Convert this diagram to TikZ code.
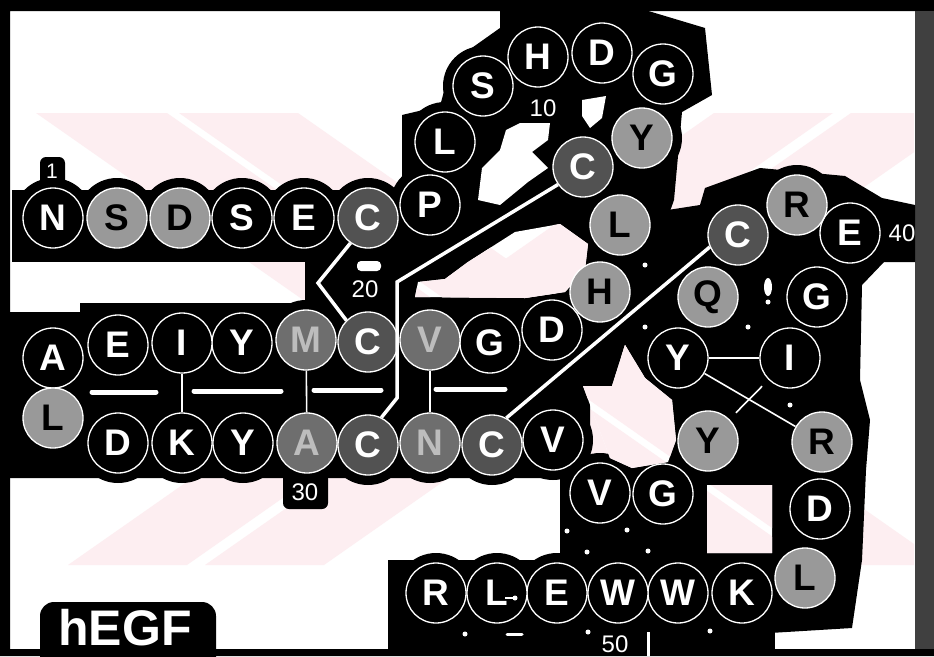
\documentclass[tikz,border=0pt]{standalone}
\usepackage{fontspec}
\setmainfont{Liberation Sans}
\usepackage{xcolor}
\usepackage{tikz}
\usetikzlibrary{backgrounds}
\definecolor{litegray}{gray}{0.60}
\definecolor{midgray}{gray}{0.43}
\definecolor{midletter}{gray}{0.74}
\definecolor{cysgray}{gray}{0.32}
\definecolor{edgegray}{gray}{0.25}
\definecolor{wmpink}{RGB}{253,238,241}
% faint watermark bands
\newcommand{\wmbands}{%
  \begin{scope}
    \clip (12,113) rectangle (914,565);
    \fill[wmpink] (36,113) -- (167,113) -- (813,565) -- (682,565) -- cycle;
    \fill[wmpink] (179,113) -- (298,113) -- (944,565) -- (825,565) -- cycle;
    \fill[wmpink] (714,113) -- (833,113) -- (187,565) -- (68,565) -- cycle;
    \fill[wmpink] (851,113) -- (970,113) -- (324,565) -- (205,565) -- cycle;
  \end{scope}}

\begin{document}
\begin{tikzpicture}[x=1pt,y=-1pt,
  res/.style={circle,draw=white,line width=1.3pt,fill=black,text=white,minimum size=60pt,inner sep=0pt,font=\fontsize{37}{37}\selectfont\bfseries},
  resl/.style={res,fill=litegray,text=black},
  resm/.style={res,fill=midgray,text=midletter},
  resc/.style={res,fill=cysgray,text=white},
  num/.style={text=white,inner sep=0pt,font=\fontsize{24}{24}\selectfont},
  ss/.style={draw=white,line width=3.5pt},
  pair/.style={draw=white,line width=1.6pt},
  hbar/.style={draw=white,line width=5pt,line cap=round},
  speck/.style={fill=white}
]
\useasboundingbox (0,0) rectangle (934,656);
\clip (0,0) rectangle (934,656);

% residues 1-53
\node[res] (n1) at (53,218) {N};
\node[resl] (s2) at (117,218) {S};
\node[resl] (d3) at (180,218) {D};
\node[res] (s4) at (242,218) {S};
\node[res] (e5) at (304,218) {E};
\node[resc] (c6) at (368,218) {C};
\node[res] (p7) at (430,205) {P};
\node[res] (l8) at (445,142) {L};
\node[res] (s9) at (483,86) {S};
\node[res] (h10) at (538,57) {H};
\node[res] (d11) at (602,53) {D};
\node[res] (g12) at (663,74) {G};
\node[resl] (y13) at (642,138) {Y};
\node[resc] (c14) at (583,167) {C};
\node[resl] (l15) at (620,225) {L};
\node[resl] (h16) at (600,292) {H};
\node[res] (d17) at (552,330) {D};
\node[res] (g18) at (490,343) {G};
\node[resm] (v19) at (430,340) {V};
\node[resc] (c20) at (368,342) {C};
\node[resm] (m21) at (306,340) {M};
\node[res] (y22) at (242,343) {Y};
\node[res] (i23) at (182,343) {I};
\node[res] (e24) at (118,345) {E};
\node[res] (a25) at (53,358) {A};
\node[resl] (l26) at (53,418) {L};
\node[res] (d27) at (118,443) {D};
\node[res] (k28) at (182,443) {K};
\node[res] (y29) at (243,443) {Y};
\node[resm] (a30) at (307,443) {A};
\node[resc] (c31) at (368,445) {C};
\node[resm] (n32) at (430,443) {N};
\node[resc] (c33) at (492,445) {C};
\node[res] (v34) at (553,440) {V};
\node[res] (v35) at (600,493) {V};
\node[res] (g36) at (663,494) {G};
\node[resl] (y37) at (708,441) {Y};
\node[res] (i38) at (790,358) {I};
\node[res] (g39) at (817,297) {G};
\node[res] (e40) at (850,233) {E};
\node[resl] (r41) at (797,205) {R};
\node[resc] (c42) at (738,235) {C};
\node[resl] (q43) at (708,297) {Q};
\node[res] (y44) at (678,358) {Y};
\node[resl] (r45) at (822,442) {R};
\node[res] (d46) at (820,509) {D};
\node[resl] (l47) at (805,578) {L};
\node[res] (k48) at (742,593) {K};
\node[res] (w49) at (678,593) {W};
\node[res] (w50) at (618,593) {W};
\node[res] (e51) at (557,593) {E};
\node[res] (l52) at (497,593) {L};
\node[res] (r53) at (436,593) {R};

% numbering
\node[num,font=\fontsize{21}{21}\selectfont] (lab1) at (52,171) {1};
\node[num] (lab10) at (543,108) {10};
\node[num] (lab20) at (365,289) {20};
\node[num] (lab30) at (305,492) {30};
\node[num] (lab40) at (902,233) {40};
\node[num] (lab50) at (615,644) {50};
\node[anchor=base west,text=white,inner sep=0pt,font=\fontsize{50}{50}\selectfont\bfseries] (title) at (58,645) {hEGF};

% disulfide bridges
\coordinate (b1) at (318,283);
\coordinate (b2) at (397,398);
\coordinate (b3) at (397,282);
\draw[ss] (c6.235) -- (b1) -- (c20.135);
\draw[ss] (c31.64) -- (b2) -- (b3) -- (c14.215);
\draw[ss] (c33.62) -- (c42.203);
% pairings
\draw[pair] (i23) -- (k28); \draw[pair] (m21) -- (a30); \draw[pair] (v19) -- (n32);
\draw[pair] (y44) -- (i38); \draw[pair] (y44) -- (r45);
\draw[pair,shorten <=9pt,shorten >=9pt] (i38) -- (y37);
\draw[hbar] (92,392) -- (156,392); \draw[hbar] (194,391) -- (281,391);
\draw[hbar] (314,390) -- (381,390); \draw[hbar] (436,389) -- (505,389);

% small marks
\fill[white,rounded corners=4pt] (357,261) rectangle (381,271);
\fill[white] (768,287) ellipse (4pt and 9pt); \fill[white] (768,302) circle (2.5pt);
\foreach \x/\y in {645/265,645/327,748/327,790/405,567/531,627/530,587/552,648/551,588/632,710/631,465/634}
  \fill[speck] (\x,\y) circle (2.5pt);
\draw[white,line width=3pt] (648,632) -- (648,656);
\draw[white,line width=3pt,line cap=round] (507,634) -- (522,634);
\draw[white,line width=1.5pt] (505,598) -- (515,598); \fill[white] (515,598) circle (2.5pt);

\begin{pgfonlayer}{background}
  \fill[white] (0,0) rectangle (934,656);
  \wmbands
  % frame
  \fill[black] (0,0) rectangle (934,11) (0,0) rectangle (10,656) (0,649) rectangle (934,656);
  \fill[edgegray] (915,11) rectangle (934,649);
  % black ground round the chain
  \fill[black] (12,190) rectangle (462,262);
  \fill[black] (10,312) -- (80,312) -- (80,303) -- (590,303) -- (590,478) -- (10,478) -- cycle;
  \fill[black] (305,250) rectangle (434,305);
  \fill[black] (402,262) -- (402,115) -- (440,106) -- (452,62) -- (500,28) -- (500,10) -- (645,10) -- (705,28) -- (712,95) -- (682,112) -- (674,200) -- (652,262) -- (650,300) -- (612,325) -- (590,360) -- (540,306) -- (428,306) -- (428,262) -- cycle;
  \fill[black] (655,212) -- (700,205) -- (705,188) -- (760,168) -- (845,176) -- (882,198) -- (915,205) -- (915,262) -- (884,262) -- (862,285) -- (860,380) -- (870,420) -- (866,470) -- (862,560) -- (852,628) -- (770,633) -- (700,640) -- (640,470) -- (590,390) -- (590,300) -- (640,240) -- cycle;
  \fill[black] (560,455) rectangle (705,565);
  \fill[black] (388,560) rectangle (775,650);
  \fill[black,rounded corners=14pt] (40,602) rectangle (216,680);
  \fill[black,rounded corners=6pt] (283,470) rectangle (328,509);
  \fill[black,rounded corners=6pt] (40,157) rectangle (65,195);
  \foreach \r in {n1,s2,d3,s4,e5,c6,p7,l8,s9,h10,d11,g12,y13,c14,l15,h16,d17,g18,v19,c20,m21,y22,i23,e24,a25,l26,d27,k28,y29,a30,c31,n32,c33,v34,v35,g36,y37,i38,g39,e40,r41,c42,q43,y44,r45,d46,l47,k48,w49,w50,e51,l52,r53}
    \fill[black] (\r.center) circle (40pt);
  % open spaces inside the ground
  \begin{scope}
    \clip (478,200) -- (482,168) -- (500,150) -- (506,130) -- (520,123) -- (550,123) -- (548,140) -- (532,152) -- (548,168) -- (528,182) -- (500,205) -- cycle
      (415,297) -- (418,282) -- (445,279) -- (468,262) -- (515,232) -- (560,224) -- (588,244) -- (585,270) -- (565,292) -- (525,298) -- cycle
      (583,386) -- (612,386) -- (625,345) -- (645,378) -- (672,400) -- (676,440) -- (668,462) -- (632,468) -- (610,458) -- (592,410) -- cycle
      (707,485) rectangle (772,553)
      (582,100) -- (606,96) -- (602,118) -- (590,128) -- (582,116) -- cycle;
    \fill[white] (0,0) rectangle (934,656);
    \wmbands
  \end{scope}
\end{pgfonlayer}
\end{tikzpicture}
\end{document}
